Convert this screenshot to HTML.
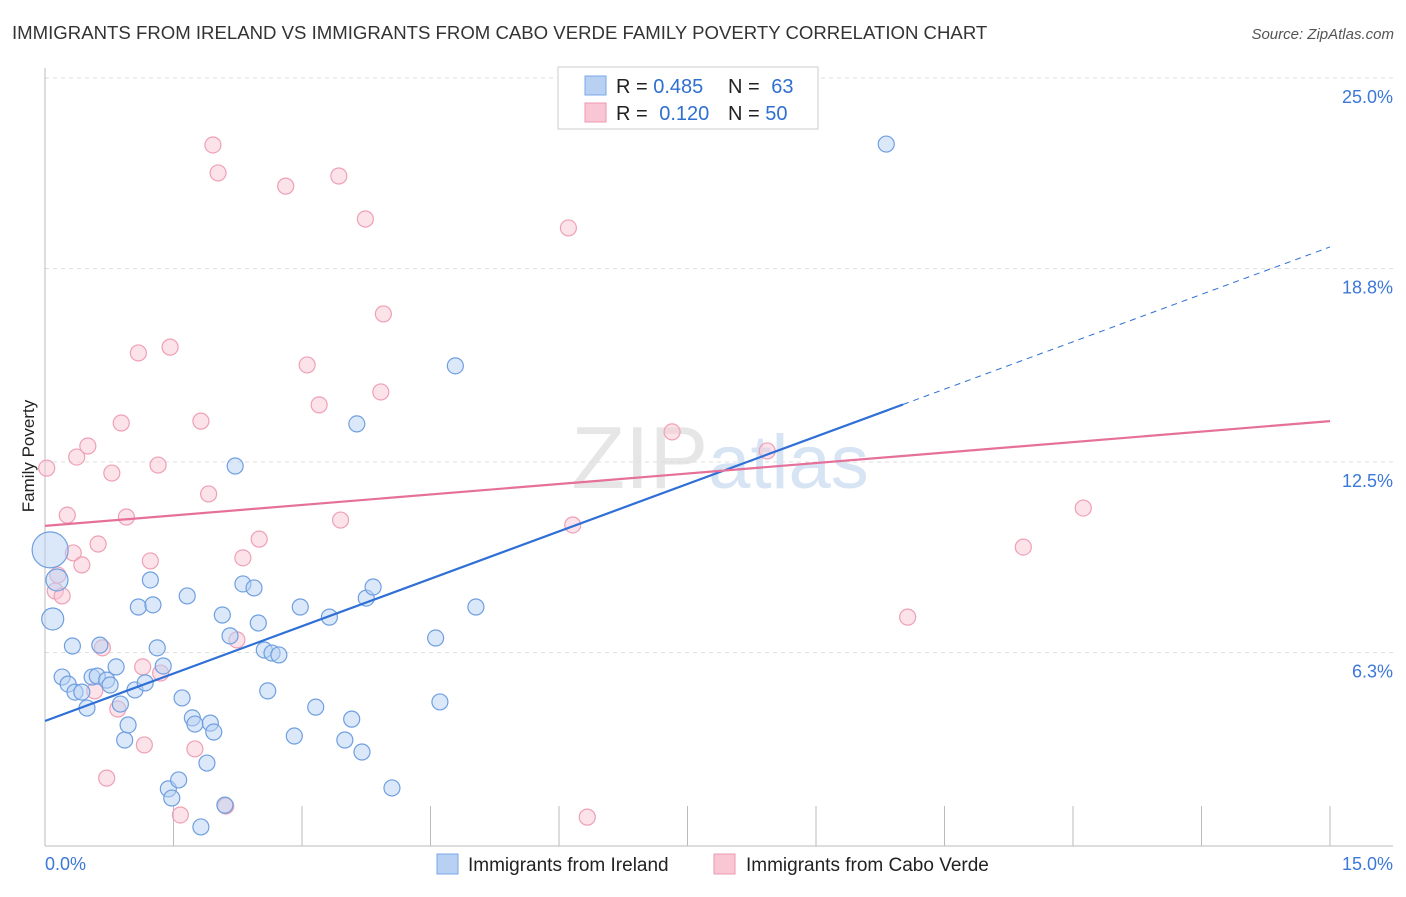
<!DOCTYPE html>
<html><head><meta charset="utf-8"><style>
body{margin:0;background:#fff;font-family:"Liberation Sans",sans-serif;}
svg text{font-family:"Liberation Sans",sans-serif;}
</style></head><body>
<svg id="chart" width="1406" height="892" xmlns="http://www.w3.org/2000/svg">
<text x="12" y="39" font-size="18.6" fill="#333">IMMIGRANTS FROM IRELAND VS IMMIGRANTS FROM CABO VERDE FAMILY POVERTY CORRELATION CHART</text>
<text x="1394" y="39" font-size="15" fill="#555" font-style="italic" text-anchor="end">Source: ZipAtlas.com</text>
<text x="720" y="488" font-size="88" fill="#e6e6e6" text-anchor="middle" font-family="Liberation Serif">ZIP<tspan fill="#d6e4f4" font-family="Liberation Sans" font-size="76">atlas</tspan></text>
<text transform="translate(34,456) rotate(-90)" font-size="17" fill="#222" text-anchor="middle">Family Poverty</text>
<g id="grid"></g>
<g id="marks"></g>
<g>
<rect x="558" y="67" width="260" height="62" fill="#fff" stroke="#ccc"/>
<rect x="585" y="76" width="21" height="19" fill="#b8d1f3" stroke="#7aa7e8"/>
<rect x="585" y="103" width="21" height="19" fill="#f9c6d4" stroke="#ee98b0"/>
<text x="616" y="93" font-size="20" fill="#222">R = <tspan fill="#2f6fd0">0.485</tspan></text>
<text x="728" y="93" font-size="20" fill="#222">N = <tspan fill="#2f6fd0" dx="6">63</tspan></text>
<text x="616" y="120" font-size="20" fill="#222">R = <tspan fill="#2f6fd0" dx="6">0.120</tspan></text>
<text x="728" y="120" font-size="20" fill="#222">N = <tspan fill="#2f6fd0">50</tspan></text>
</g>
<g>
<rect x="437" y="854" width="21" height="20" fill="#b8d1f3" stroke="#7aa7e8"/>
<text x="468" y="871" font-size="19" fill="#222">Immigrants from Ireland</text>
<rect x="714" y="854" width="21" height="20" fill="#f9c6d4" stroke="#ee98b0"/>
<text x="746" y="871" font-size="19" fill="#222">Immigrants from Cabo Verde</text>
</g>
</svg>
<script>
const yTicks=[25,18.8,12.5,6.3];
const yTickLabels=["25.0%","18.8%","12.5%","6.3%"];
const xTickLabels=["0.0%","15.0%"];
const blueX=[.06,.14,.09,.32,.20,.27,.35,.43,.49,.55,.64,.61,.72,.76,.83,.88,.93,.97,1.05,1.09,1.17,1.23,1.26,1.31,1.38,1.44,1.48,1.56,1.60,1.66,1.72,1.75,1.82,1.89,1.93,1.97,2.07,2.10,2.16,2.22,2.31,2.44,2.49,2.56,2.60,2.65,2.73,2.91,2.98,3.16,3.32,3.50,3.58,3.64,3.70,3.75,3.83,4.05,4.56,4.61,4.79,5.03,9.82];
const blueY=[9.64,8.66,7.39,6.51,5.50,5.27,5.01,5.01,4.49,5.50,6.54,5.53,5.40,5.24,5.83,4.62,3.45,3.94,5.08,7.78,5.31,8.66,7.85,6.45,5.86,1.86,1.56,2.15,4.82,8.14,4.17,3.97,0.62,2.70,4.00,3.71,7.52,1.33,6.84,12.37,8.53,8.40,7.26,6.38,5.05,6.28,6.22,3.58,7.78,4.52,7.45,3.45,4.13,13.74,3.06,8.07,8.43,1.89,6.77,4.69,15.63,7.78,22.85];
const pinkX=[.02,.15,.12,.20,.26,.33,.37,.43,.50,.62,.67,.58,.78,.85,.89,.95,.72,1.09,1.16,1.14,1.23,1.32,1.35,1.46,1.58,1.75,1.82,1.91,1.96,2.02,2.11,2.24,2.31,2.50,2.81,3.06,3.20,3.43,3.45,3.74,3.92,3.95,6.11,6.16,6.33,7.32,8.43,10.07,11.42,12.12];
const pinkY=[12.30,8.82,8.30,8.14,10.77,9.54,12.66,9.15,13.02,9.83,6.45,5.05,12.14,4.46,13.77,10.71,2.21,16.05,3.29,5.83,9.28,12.40,5.63,16.24,1.01,3.16,13.83,11.46,22.82,21.91,1.30,6.71,9.38,9.99,21.48,15.66,14.36,21.81,10.61,20.41,14.78,17.32,20.12,10.45,0.94,13.48,12.86,7.45,9.73,11.00];
const blueTrend=[4.07,19.5];
const pinkTrend=[10.42,13.83];
const NS="http://www.w3.org/2000/svg";
const X=v=>45+v/15*1285, Y=v=>846-v*30.72;
function mk(tag,attrs,parent){const e=document.createElementNS(NS,tag);for(const k in attrs)e.setAttribute(k,attrs[k]);parent.appendChild(e);return e;}
const grid=document.getElementById('grid'), marks=document.getElementById('marks');
yTicks.forEach((t,i)=>{
 const l=mk('line',{x1:45,x2:1393,y1:Y(t),y2:Y(t),stroke:'#ddd','stroke-dasharray':'4,4'},grid);
 
 
 const tx=mk('text',{x:1393,y:Y(t)+25,'font-size':18,fill:'#3b78d8','text-anchor':'end'},grid);
 tx.textContent=yTickLabels[i];
 
 
});
mk('line',{x1:45,x2:45,y1:68,y2:846,stroke:'#bbb'},grid);
mk('line',{x1:45,x2:1393,y1:846,y2:846,stroke:'#bbb'},grid);
for(let i=1;i<=10;i++){const t=mk('line',{x1:X(i*1.5),x2:X(i*1.5),y1:806,y2:846,stroke:'#bbb'},grid);
 
 }
[[0,'start',45],[1,'end',1393]].forEach(([i,a,x])=>{const t=mk('text',{x:x,y:870,'font-size':18,fill:'#3b78d8','text-anchor':a},grid);t.textContent=xTickLabels[i];
 
 });
function dot(x,y,r,fill,stroke,name){const c=mk('circle',{cx:X(x),cy:Y(y),r:r,fill:fill,stroke:stroke,'stroke-width':1.2},marks);
 
 }
pinkX.forEach((x,i)=>dot(x,pinkY[i],8,'rgba(249,198,212,0.5)','#eea0b6','point-cabo-verde'));
blueX.forEach((x,i)=>dot(x,blueY[i],i===0?18:(i<3?11:8),'rgba(184,209,243,0.5)','#6f9fe0','point-ireland'));
const bEnd=(903-45)/1285*15, bYe=blueTrend[0]+(blueTrend[1]-blueTrend[0])*bEnd/15;
const bl=mk('line',{x1:X(0),y1:Y(blueTrend[0]),x2:X(bEnd),y2:Y(bYe),stroke:'#2f6fd6','stroke-width':2.2},marks);


const bd=mk('line',{x1:X(bEnd),y1:Y(bYe),x2:X(15),y2:Y(blueTrend[1]),stroke:'#2f6fd6','stroke-width':1,'stroke-dasharray':'6,5'},marks);


const pl=mk('line',{x1:X(0),y1:Y(pinkTrend[0]),x2:X(15),y2:Y(pinkTrend[1]),stroke:'#e5709a','stroke-width':2.2},marks);


</script>
</body></html>
